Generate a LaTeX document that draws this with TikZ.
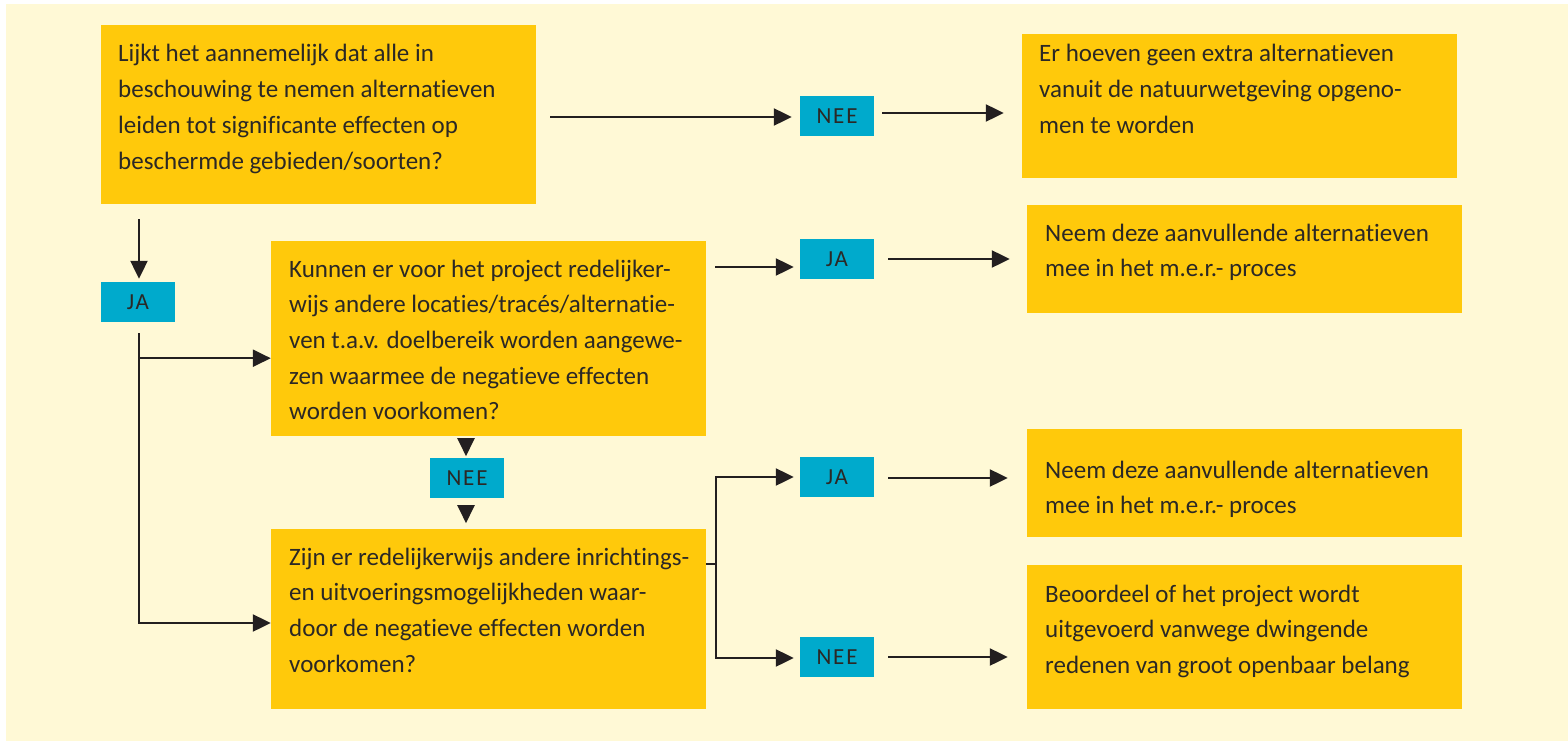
\documentclass[tikz,border=0pt]{standalone}
\usepackage{fontspec}
\setmainfont[Ligatures=NoCommon]{Carlito}
\usetikzlibrary{arrows.meta,calc}
\definecolor{bgc}{HTML}{FFF9D6}
\definecolor{boxc}{HTML}{FFC90B}
\definecolor{tagc}{HTML}{00AACC}
\definecolor{txtc}{HTML}{2B2825}
\definecolor{arrc}{HTML}{231F20}
\newcommand\tlines[1]{\vtop{\hsize=440pt\parindent=0pt\raggedright #1}}
\begin{document}
\begin{tikzpicture}[x=1pt,y=-1pt,
 box/.style={fill=boxc, draw=none, minimum width=435pt, inner sep=0pt},
 tag/.style={fill=tagc, minimum width=74pt, minimum height=40pt, inner sep=0pt, text=txtc, font=\fontsize{23}{27}\selectfont\addfontfeature{LetterSpace=8}},
 txt/.style={anchor=base west, inner sep=0pt, text=txtc, font=\fontsize{25}{35.7}\selectfont},
 ln/.style={draw=arrc, line width=2.2pt, line join=miter},
 arr/.style={ln, -{Triangle[length=18pt,width=17pt]}}]
\fill[white] (0,0) rectangle (1568,741);
\fill[bgc] (6,4) rectangle (1568,741);
\useasboundingbox (0,0) rectangle (1568,741);
% boxes
\node[box, minimum height=179pt] (q1) at (318.5,114.5) {};
\node[box, minimum height=144pt] (a1) at (1239.5,106) {};
\node[box, minimum height=108pt] (b1) at (1244.5,259) {};
\node[box, minimum height=195pt] (q2) at (488.5,338.5) {};
\node[box, minimum height=180pt] (q3) at (488.5,619) {};
\node[box, minimum height=108pt] (c1) at (1244.5,483) {};
\node[box, minimum height=144pt] (d1) at (1244.5,637) {};
% texts
\node[txt] (t1) at (118,62) {\tlines{Lijkt het aannemelijk dat alle in\\beschouwing te nemen alternatieven\\leiden tot significante effecten op\\beschermde gebieden/soorten?}};
\node[txt] (ta) at (1039,62) {\tlines{Er hoeven geen extra alternatieven\\vanuit de natuurwetgeving opgeno-\\men te worden}};
\node[txt] (tb) at (1045,241) {\tlines{Neem deze aanvullende alternatieven\\mee in het m.e.r.- proces}};
\node[txt] (t2) at (289,277) {\tlines{Kunnen er voor het project redelijker-\\wijs andere locaties/tracés/alternatie-\\ven t.a.v. doelbereik worden aangewe-\\zen waarmee de negatieve effecten\\worden voorkomen?}};
\node[txt] (t3) at (289,565) {\tlines{Zijn er redelijkerwijs andere inrichtings-\\en uitvoeringsmogelijkheden waar-\\door de negatieve effecten worden\\voorkomen?}};
\node[txt] (tc) at (1045,478) {\tlines{Neem deze aanvullende alternatieven\\mee in het m.e.r.- proces}};
\node[txt] (td) at (1045,602) {\tlines{Beoordeel of het project wordt\\uitgevoerd vanwege dwingende\\redenen van groot openbaar belang}};
% tags
\node[tag] (nee1) at (837,116) {NEE};
\node[tag] (ja1) at (138,302) {JA};
\node[tag] (ja2) at (837,259) {JA};
\node[tag] (nee2) at (467,478) {NEE};
\node[tag] (ja3) at (837,477) {JA};
\node[tag] (nee3) at (837,657) {NEE};
% connectors
\draw[arr] ($(q1.east |- nee1.west)+(14,1)$) -- ($(nee1.west)+(-8,1)$);
\draw[arr] ($(nee1.east)+(8,-3)$) -- ($(a1.west |- nee1.east)+(-18,-3)$);
\draw[arr] ($(ja1.north |- q1.south)+(1,15)$) -- ($(ja1.north)+(1,-3)$);
\coordinate (br1) at ($(ja1.south)+(1,36)$);
\draw[arr] ($(ja1.south)+(1,11)$) |- ($(q3.west)+(0,4)$);
\draw[arr] (br1) -- (br1 -| q2.west);
\draw[arr] ($(q2.east |- ja2.west)+(9,8)$) -- ($(ja2.west)+(-6,8)$);
\draw[arr] ($(ja2.east)+(14,0)$) -- ($(b1.west |- ja2.east)+(-17,0)$);
\coordinate (sp) at ($(q3.east)+(10,-55)$);
\draw[ln] ($(q3.east)+(0,-55)$) -- (sp);
\draw[arr] (sp) |- ($(ja3.west)+(-6,0)$);
\draw[arr] (sp) |- ($(nee3.west)+(-6,1)$);
\draw[arr] ($(ja3.east)+(14,1)$) -- ($(c1.west |- ja3.east)+(-19,1)$);
\draw[arr] ($(nee3.east)+(14,0)$) -- ($(d1.west |- nee3.east)+(-19,0)$);
\draw[arr] ($(nee2.north |- q2.south)+(-1,2)$) -- ++(0,18);
\draw[arr] ($(nee2.south)+(-1,7)$) -- ++(0,18);
\end{tikzpicture}
\end{document}
